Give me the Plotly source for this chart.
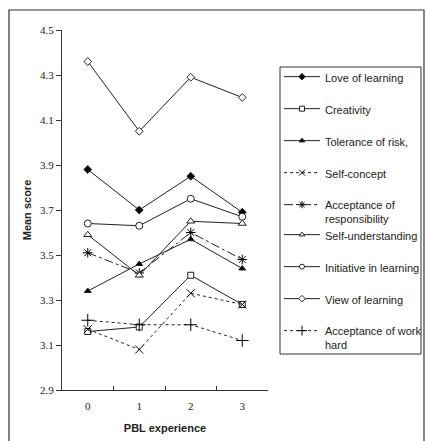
import plotly.graph_objects as go

x_labels = ["0", "1", "2", "3"]
series_names = [
    "Love of learning",
    "Creativity",
    "Tolerance of risk,",
    "Self-concept",
    "Acceptance of<br>responsibility",
    "Self-understanding",
    "Initiative in learning",
    "View of learning",
    "Acceptance of work<br>hard",
]
love_of_learning = [3.88, 3.70, 3.85, 3.69]
creativity = [3.16, 3.18, 3.41, 3.28]
tolerance_of_risk = [3.34, 3.46, 3.57, 3.44]
self_concept = [3.17, 3.08, 3.33, 3.28]
acceptance_of_responsibility = [3.51, 3.42, 3.60, 3.48]
self_understanding = [3.59, 3.41, 3.65, 3.64]
initiative_in_learning = [3.64, 3.63, 3.75, 3.67]
view_of_learning = [4.36, 4.05, 4.29, 4.20]
acceptance_of_work_hard = [3.21, 3.19, 3.19, 3.12]
y_ticks = [2.9, 3.1, 3.3, 3.5, 3.7, 3.9, 4.1, 4.3, 4.5]

values = [love_of_learning, creativity, tolerance_of_risk, self_concept,
          acceptance_of_responsibility, self_understanding,
          initiative_in_learning, view_of_learning, acceptance_of_work_hard]

styles = [
    dict(symbol="diamond", size=6, lsize=5, fill="black", dash="solid"),
    dict(symbol="square", size=6, lsize=5, fill="white", dash="solid"),
    dict(symbol="triangle-up", size=6, lsize=5, fill="black", dash="solid"),
    dict(symbol="x-thin-open", size=8, lsize=6, fill="black", dash="dot"),
    dict(symbol="asterisk-open", size=8, lsize=6, fill="black", dash="dashdot"),
    dict(symbol="triangle-up", size=7, lsize=5, fill="white", dash="solid"),
    dict(symbol="circle", size=7, lsize=5, fill="white", dash="solid"),
    dict(symbol="diamond", size=6, lsize=5, fill="white", dash="solid"),
    dict(symbol="cross-thin-open", size=9, lsize=7, fill="black", dash="dot"),
]

INK = "#222222"
fig = go.Figure()
for i, (name, vals, st) in enumerate(zip(series_names, values, styles)):
    fig.add_trace(go.Scatter(
        x=x_labels, y=vals, name=name, mode="lines+markers",
        showlegend=False,
        line=dict(color=INK, width=1, dash=st["dash"]),
        marker=dict(symbol=st["symbol"], size=st["size"], color=st["fill"],
                    line=dict(color=INK, width=1)),
    ))
# legend entries (smaller symbols, as in the original legend)
for i, (name, st) in enumerate(zip(series_names, styles)):
    fig.add_trace(go.Scatter(
        x=[None], y=[None], name=name, mode="lines+markers",
        legend="legend" if i < 5 else "legend2",
        legendgroup=f"g{i}",
        line=dict(color=INK, width=1, dash=st["dash"]),
        marker=dict(symbol=st["symbol"], size=st["lsize"], color=st["fill"],
                    line=dict(color=INK, width=1)),
    ))

PW, PH, L, T = 206, 360, 62, 30


def px(xp):
    return (xp - L) / PW


def py(yp):
    return (T + PH - yp) / PH


legend_font = dict(family="Liberation Sans, Arial", size=11, color=INK)
common_legend = dict(
    xanchor="left", yanchor="top", bgcolor="rgba(0,0,0,0)", borderwidth=0,
    font=legend_font, tracegroupgap=13, valign="top", traceorder="grouped",
    itemwidth=36,
)

fig.update_layout(
    width=427, height=441,
    margin=dict(l=L, r=427 - L - PW, t=T, b=441 - T - PH, autoexpand=False),
    paper_bgcolor="white", plot_bgcolor="white",
    showlegend=True,
    legend=dict(x=px(279), y=py(63), **common_legend),
    legend2=dict(x=px(279), y=py(221), **common_legend),
    xaxis=dict(
        type="category", range=[-0.5, 3.5], tickson="boundaries",
        ticks="inside", ticklen=4, tickcolor="#333333",
        showline=True, linecolor="#333333", linewidth=1,
        showgrid=False, zeroline=False, ticklabelstandoff=6,
        tickfont=dict(family="Liberation Serif, Times New Roman", size=11, color=INK),
        title=dict(text="<b>PBL experience</b>", standoff=13,
                   font=dict(family="Liberation Sans, Arial", size=11, color=INK)),
    ),
    yaxis=dict(
        range=[2.9, 4.5], tickmode="array", tickvals=y_ticks,
        ticktext=[f"{v:.1f}" for v in y_ticks],
        ticks="outside", ticklen=5, tickcolor="#333333",
        showline=True, linecolor="#333333", linewidth=1,
        showgrid=False, zeroline=False,
        tickfont=dict(family="Liberation Serif, Times New Roman", size=11, color=INK),
        title=dict(text="<b>Mean score</b>", standoff=6,
                   font=dict(family="Liberation Sans, Arial", size=11, color=INK)),
    ),
    shapes=[
        dict(type="rect", xref="paper", yref="paper",
             x0=px(9), x1=px(424), y0=py(444), y1=py(10),
             line=dict(color="#333333", width=1.2), layer="below"),
        dict(type="rect", xref="paper", yref="paper",
             x0=px(280), x1=px(421), y0=py(354), y1=py(67),
             line=dict(color="#333333", width=1), layer="below"),
    ],
)

fig.write_html("out.html")
